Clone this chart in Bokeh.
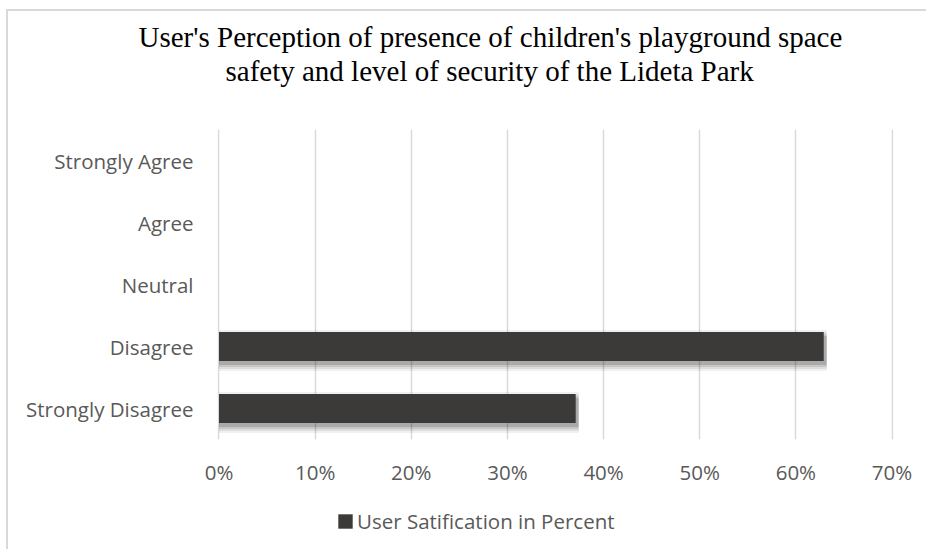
from bokeh.plotting import figure
from bokeh.layouts import column
from bokeh.models import (Range1d, FactorRange, FixedTicker, PrintfTickFormatter,
                          Legend, LegendItem, Title, ColumnDataSource)
from bokeh.transform import dodge
from bokeh.embed import file_html
from bokeh.resources import INLINE

# ---- data ----
categories = ["Strongly Disagree", "Disagree", "Neutral", "Agree", "Strongly Agree"]
values = [37.1, 62.9, 0, 0, 0]
x_ticks = [0, 10, 20, 30, 40, 50, 60, 70]
series_name = "User Satification in Percent"
title_lines = ["User's Perception of presence of  children's playground space",
               "safety and level of security of the Lideta Park"]

BAR_COLOR = "#3b3a38"
W, H = 920, 490
FL, FR, FT, FB = 209, 885, 118, 428   # frame edges in canvas px
x_max = 70
px_x = x_max / (FR - FL)
px_y = len(categories) / (FB - FT)
bar_h = 0.47

src = ColumnDataSource(dict(cat=categories, val=values))

p = figure(width=W, height=H, output_backend="svg", toolbar_location=None,
           y_range=FactorRange(*categories),
           x_range=Range1d(-1.5 * px_x, x_max + 1.5 * px_x),
           min_border_left=FL, min_border_right=W - FR, min_border_top=FT,
           min_border_bottom=H - FB,
           styles={"margin-left": "6px", "margin-top": "9px",
                   "border-left": "2px solid #d9d9d9", "border-top": "2px solid #d9d9d9"})
p.outline_line_color = None
p.background_fill_color = "white"
p.border_fill_color = "white"

# soft drop shadow (derived from the same values)
shadow_src = ColumnDataSource(dict(cat=categories, val=values,
                                   sval=[v + 3 * px_x if v > 0 else 0 for v in values]))
for blur, a in [(6, 0.06), (4, 0.08), (2, 0.1), (0, 0.14)]:
    p.hbar(y=dodge("cat", -4 * px_y, range=p.y_range), left=0,
           right="sval", height=bar_h + 2 * blur * px_y, source=shadow_src,
           fill_color="black", fill_alpha=a, line_color=None)

bars = p.hbar(y="cat", left=0, right="val", height=bar_h, source=src,
              fill_color=BAR_COLOR, line_color=None)

# axes
p.xaxis.ticker = FixedTicker(ticks=x_ticks)
p.xaxis.formatter = PrintfTickFormatter(format="%d%%")
for ax in (p.xaxis[0], p.yaxis[0]):
    ax.axis_line_color = None
    ax.major_tick_line_color = None
    ax.minor_tick_line_color = None
    ax.major_label_text_font = "Open Sans"
    ax.major_label_text_font_size = "20.5px"
    ax.major_label_text_color = "#595959"
p.xaxis.major_label_standoff = 12
p.yaxis.major_label_standoff = 18

p.xgrid.grid_line_color = "#d9d9d9"
p.xgrid.grid_line_width = 1.5
p.ygrid.grid_line_color = None

# title: spacer, second line, first line (stacked upward from the frame)
p.add_layout(Title(text=" ", text_font_size="29px", standoff=9), "above")
p.add_layout(Title(text=title_lines[1], align="left", offset=8, standoff=0,
                   text_font="Liberation Serif", text_font_size="29px",
                   text_font_style="normal", text_color="black"), "above")
p.add_layout(Title(text=title_lines[0], align="left", offset=-79, standoff=0,
                   text_font="Liberation Serif", text_font_size="29px",
                   text_font_style="normal", text_color="black"), "above")

# ---- legend strip below the chart (its frame is aligned with the chart's) ----
H2 = 50
lg = figure(width=W, height=H2, output_backend="svg", toolbar_location=None,
            x_range=Range1d(0, 1), y_range=Range1d(0, 1),
            x_axis_type=None, y_axis_type=None,
            min_border_left=0, min_border_right=0, min_border_top=0, min_border_bottom=0,
            styles={"margin-left": "6px", "border-left": "2px solid #d9d9d9"})
lg.outline_line_color = None
lg.grid.grid_line_color = None
# legend proxy: one bar of the series, placed outside the strip's visible range
legend_src = ColumnDataSource(dict(y=[-5.0], val=[values[1]]))
legend_glyph = lg.hbar(y="y", left=0, right="val", height=bar_h, source=legend_src,
                       fill_color=BAR_COLOR, line_color=None)
legend = Legend(items=[LegendItem(label=series_name, renderers=[legend_glyph], index=0)],
                location=(119, 14), orientation="horizontal",
                glyph_width=18, glyph_height=18, label_standoff=3,
                padding=0, margin=0, border_line_color=None,
                background_fill_alpha=0,
                label_text_font="Open Sans", label_text_font_size="20.5px",
                label_text_color="#595959")
lg.add_layout(legend)

layout = column(p, lg, spacing=0)
open("out.html", "w").write(file_html(layout, INLINE))
